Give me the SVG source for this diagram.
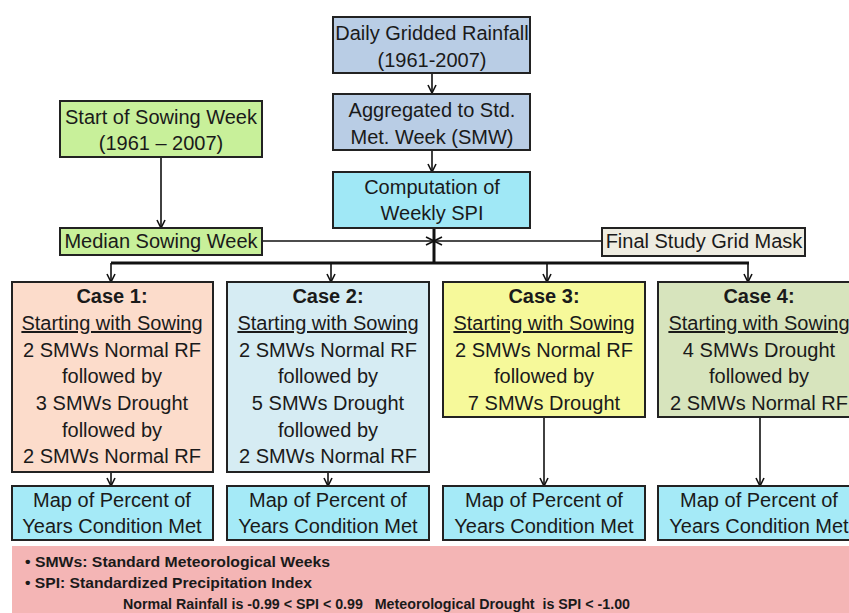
<svg xmlns="http://www.w3.org/2000/svg" width="849" height="613" viewBox="0 0 849 613">
<defs>
<style>
.b{stroke:#222;stroke-width:2}
.t{font-family:"Liberation Sans",Arial,sans-serif;font-size:20px;fill:#1a1a1a;text-anchor:middle}
.h{font-weight:bold}
.u{text-decoration:underline}
.l{font-family:"Liberation Sans",Arial,sans-serif;font-size:14px;font-weight:bold;fill:#1a1a1a}
.c{stroke:#111;stroke-width:1.6;fill:none}
.bus{stroke:#111;stroke-width:3;fill:none}
</style>
<marker id="ah" viewBox="0 0 10 10" refX="9" refY="5" markerWidth="10" markerHeight="10" markerUnits="userSpaceOnUse" orient="auto">
<path d="M1,1 L9,5 L1,9" fill="none" stroke="#111" stroke-width="1.6"/>
</marker>
</defs>
<rect width="849" height="613" fill="#fff"/>

<g id="connectors">
<path class="c" d="M432,73 V93" marker-end="url(#ah)"/>
<path class="c" d="M432,150 V172" marker-end="url(#ah)"/>
<path class="c" d="M161,157 V228" marker-end="url(#ah)"/>
<path class="c" d="M262,241 H434" marker-end="url(#ah)"/>
<path class="c" d="M602,241 H434" marker-end="url(#ah)"/>
<path class="bus" d="M434,228 V263"/>
<path class="bus" d="M111,263 H749"/>
<path class="c" d="M111,263 V282" marker-end="url(#ah)"/>
<path class="c" d="M331,263 V282" marker-end="url(#ah)"/>
<path class="c" d="M547,263 V282" marker-end="url(#ah)"/>
<path class="c" d="M748,263 V282" marker-end="url(#ah)"/>
<path class="c" d="M111,472 V486" marker-end="url(#ah)"/>
<path class="c" d="M328,472 V486" marker-end="url(#ah)"/>
<path class="c" d="M544,417 V486" marker-end="url(#ah)"/>
<path class="c" d="M760,417 V486" marker-end="url(#ah)"/>
</g>

<g id="daily">
<rect class="b" x="333" y="17" width="197" height="56" fill="#b9cde5"/>
<text class="t" x="432" y="40">Daily Gridded Rainfall</text>
<text class="t" x="432" y="67">(1961-2007)</text>
</g>
<g id="aggregated">
<rect class="b" x="333" y="94" width="197" height="56" fill="#b9cde5"/>
<text class="t" x="432" y="117">Aggregated to Std.</text>
<text class="t" x="432" y="144">Met. Week (SMW)</text>
</g>
<g id="computation">
<rect class="b" x="333" y="172" width="197" height="56" fill="#a0e8f6"/>
<text class="t" x="432" y="194">Computation of</text>
<text class="t" x="432" y="220">Weekly SPI</text>
</g>
<g id="start-sowing">
<rect class="b" x="60" y="101" width="202" height="56" fill="#c8f09a"/>
<text class="t" x="161" y="124">Start of Sowing Week</text>
<text class="t" x="161" y="150">(1961 – 2007)</text>
</g>
<g id="median-sowing">
<rect class="b" x="60" y="228" width="202" height="27" fill="#c8f09a"/>
<text class="t" x="161" y="248">Median Sowing Week</text>
</g>
<g id="grid-mask">
<rect class="b" x="602" y="228" width="203" height="28" fill="#eeece1"/>
<text class="t" x="704" y="248">Final Study Grid Mask</text>
</g>

<g id="case1">
<rect class="b" x="12" y="282" width="201" height="190" fill="#fcdccb"/>
<text class="t h" x="112" y="303">Case 1:</text>
<text class="t u" x="112" y="330">Starting with Sowing</text>
<text class="t" x="112" y="357">2 SMWs Normal RF</text>
<text class="t" x="112" y="383">followed by</text>
<text class="t" x="112" y="410">3 SMWs Drought</text>
<text class="t" x="112" y="437">followed by</text>
<text class="t" x="112" y="463">2 SMWs Normal RF</text>
</g>
<g id="case2">
<rect class="b" x="227" y="282" width="202" height="190" fill="#d6ecf3"/>
<text class="t h" x="328" y="303">Case 2:</text>
<text class="t u" x="328" y="330">Starting with Sowing</text>
<text class="t" x="328" y="357">2 SMWs Normal RF</text>
<text class="t" x="328" y="383">followed by</text>
<text class="t" x="328" y="410">5 SMWs Drought</text>
<text class="t" x="328" y="437">followed by</text>
<text class="t" x="328" y="463">2 SMWs Normal RF</text>
</g>
<g id="case3">
<rect class="b" x="443" y="282" width="202" height="135" fill="#f6f99a"/>
<text class="t h" x="544" y="303">Case 3:</text>
<text class="t u" x="544" y="330">Starting with Sowing</text>
<text class="t" x="544" y="357">2 SMWs Normal RF</text>
<text class="t" x="544" y="383">followed by</text>
<text class="t" x="544" y="410">7 SMWs Drought</text>
</g>
<g id="case4">
<rect class="b" x="658" y="282" width="202" height="135" fill="#d7e4bd"/>
<text class="t h" x="759" y="303">Case 4:</text>
<text class="t u" x="759" y="330">Starting with Sowing</text>
<text class="t" x="759" y="357">4 SMWs Drought</text>
<text class="t" x="759" y="383">followed by</text>
<text class="t" x="759" y="410">2 SMWs Normal RF</text>
</g>

<g id="map1">
<rect class="b" x="12" y="486" width="201" height="54" fill="#a5eaf7"/>
<text class="t" x="112" y="507">Map of Percent of</text>
<text class="t" x="112" y="533">Years Condition Met</text>
</g>
<g id="map2">
<rect class="b" x="227" y="486" width="202" height="54" fill="#a5eaf7"/>
<text class="t" x="328" y="507">Map of Percent of</text>
<text class="t" x="328" y="533">Years Condition Met</text>
</g>
<g id="map3">
<rect class="b" x="443" y="486" width="202" height="54" fill="#a5eaf7"/>
<text class="t" x="544" y="507">Map of Percent of</text>
<text class="t" x="544" y="533">Years Condition Met</text>
</g>
<g id="map4">
<rect class="b" x="658" y="486" width="202" height="54" fill="#a5eaf7"/>
<text class="t" x="759" y="507">Map of Percent of</text>
<text class="t" x="759" y="533">Years Condition Met</text>
</g>

<g id="legend">
<rect x="12" y="546" width="840" height="70" fill="#f4b5b5"/>
<text class="l" x="25" y="567" textLength="305" lengthAdjust="spacingAndGlyphs">• SMWs: Standard Meteorological Weeks</text>
<text class="l" x="25" y="588" textLength="287" lengthAdjust="spacingAndGlyphs">• SPI: Standardized Precipitation Index</text>
<text class="l" x="123" y="609" textLength="507" lengthAdjust="spacingAndGlyphs" xml:space="preserve">Normal Rainfall is -0.99 &lt; SPI &lt; 0.99   Meteorological Drought  is SPI &lt; -1.00</text>
</g>
</svg>
